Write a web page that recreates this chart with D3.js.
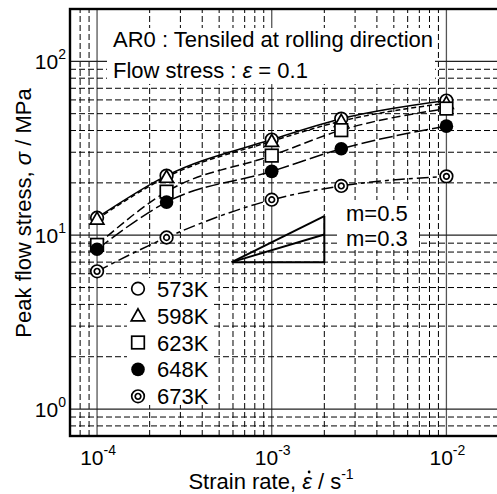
<!DOCTYPE html>
<html>
  <head>
    <meta charset="UTF-8" />
    <script src="https://d3js.org/d3.v7.min.js"></script>
    <style>
      body { margin: 0; background: #fff; }
      text { font-family: "Liberation Sans", Arial, sans-serif; fill: #000; }
    </style>
  </head>
  <body>
    <div id="chart"></div>

    <script>
      // strain rates (s^-1) and peak flow stress (MPa)
      var strainRates = [1e-4, 2.5e-4, 1e-3, 2.5e-3, 1e-2];
      var temps = ["573K", "598K", "623K", "648K", "673K"];
      var s573 = [12.6, 22.0, 35.5, 46.8, 59.5];
      var s598 = [12.4, 21.6, 34.7, 45.3, 57.5];
      var s623 = [8.8, 17.8, 28.7, 40.2, 53.5];
      var s648 = [8.3, 15.5, 23.3, 31.4, 42.4];
      var s673 = [6.2, 9.7, 16.0, 19.2, 21.8];
      var xTicks = [1e-4, 1e-3, 1e-2];
      var xTickExp = ["-4", "-3", "-2"];
      var yTicks = [1, 10, 100];
      var yTickExp = ["0", "1", "2"];
      // slope guide
      var slopeX = [5.9e-4, 2e-3];
      var slopeY0 = 7;
      var slopes = [0.5, 0.3];

      var width = 497, height = 494;
      var svg = d3.select("#chart").append("svg")
        .attr("width", width).attr("height", height);

      var x = d3.scaleLog().domain([7e-5, 2e-2]).range([70, 499]);
      var y = d3.scaleLog().domain([0.7, 200]).range([436, 9]);

      // grid
      var xGrid = [], yGrid = [];
      for (var e = -5; e <= -2; e++)
        for (var k = 1; k <= 9; k++) {
          var v = k * Math.pow(10, e);
          if (v > 7.01e-5 && v < 1.99e-2) xGrid.push({ v: v, major: k == 1 });
        }
      for (var e = -1; e <= 2; e++)
        for (var k = 1; k <= 9; k++) {
          var v = k * Math.pow(10, e);
          if (v > 0.701 && v < 199) yGrid.push({ v: v, major: k == 1 });
        }

      var grid = svg.append("g");
      grid.selectAll(".vg").data(xGrid).join("line")
        .attr("x1", d => x(d.v)).attr("x2", d => x(d.v))
        .attr("y1", y.range()[0]).attr("y2", y.range()[1])
        .attr("stroke", d => d.major ? "#555" : "#000")
        .attr("stroke-width", d => d.major ? 1.3 : 1)
        .attr("stroke-dasharray", d => d.major ? null : "6,3");
      grid.selectAll(".hg").data(yGrid).join("line")
        .attr("y1", d => y(d.v)).attr("y2", d => y(d.v))
        .attr("x1", x.range()[0]).attr("x2", x.range()[1])
        .attr("stroke", d => d.major ? "#222" : "#000")
        .attr("stroke-width", d => d.major ? 1.3 : 1)
        .attr("stroke-dasharray", d => d.major ? null : "6,3");

      // white areas behind annotations
      var boxes = [[107, 28, 328, 56], [337, 200, 82, 50], [127, 278, 86, 127]];
      svg.selectAll(".box").data(boxes).join("rect")
        .attr("x", d => d[0]).attr("y", d => d[1])
        .attr("width", d => d[2]).attr("height", d => d[3])
        .attr("fill", "#fff");

      // curves
      var series = [
        { name: temps[0], vals: s573, dash: null, mk: "circle" },
        { name: temps[1], vals: s598, dash: "5,3", mk: "triangle" },
        { name: temps[2], vals: s623, dash: "9,4", mk: "square" },
        { name: temps[3], vals: s648, dash: "14,4", mk: "filled" },
        { name: temps[4], vals: s673, dash: "12,4,4,4", mk: "double" }
      ];

      var line = d3.line()
        .x((d, i) => x(strainRates[i]))
        .y(d => y(d))
        .curve(d3.curveMonotoneX);

      svg.append("g").selectAll("path").data(series).join("path")
        .attr("d", d => line(d.vals))
        .attr("fill", "none")
        .attr("stroke", "#000")
        .attr("stroke-width", 1.5)
        .attr("stroke-dasharray", d => d.dash);

      function marker(g, type, cx, cy) {
        var m = g.append("g").attr("transform", "translate(" + cx + "," + cy + ")");
        if (type == "circle") {
          m.append("circle").attr("r", 6.3).attr("fill", "#fff").attr("stroke", "#000").attr("stroke-width", 1.7);
        } else if (type == "triangle") {
          m.append("path").attr("d", "M0,-6.8L6.8,5.2L-6.8,5.2Z").attr("fill", "#fff").attr("stroke", "#000").attr("stroke-width", 1.7);
        } else if (type == "square") {
          m.append("rect").attr("x", -6.3).attr("y", -6.3).attr("width", 12.6).attr("height", 12.6)
            .attr("fill", "#fff").attr("stroke", "#000").attr("stroke-width", 1.7);
        } else if (type == "filled") {
          m.append("circle").attr("r", 6.8).attr("fill", "#000");
        } else {
          m.append("circle").attr("r", 6.3).attr("fill", "#fff").attr("stroke", "#000").attr("stroke-width", 1.7);
          m.append("circle").attr("r", 2.8).attr("fill", "#fff").attr("stroke", "#000").attr("stroke-width", 1.7);
        }
      }

      var marks = svg.append("g");
      series.forEach(function (s) {
        s.vals.forEach(function (v, i) {
          marker(marks, s.mk, x(strainRates[i]), y(v));
        });
      });

      // slope triangle
      var tri = svg.append("g").attr("fill", "none").attr("stroke", "#000").attr("stroke-width", 2);
      var x0 = slopeX[0], x1 = slopeX[1];
      var yTop = slopeY0 * Math.pow(x1 / x0, slopes[0]);
      tri.append("path").attr("d", "M" + x(x0) + "," + y(slopeY0) + "L" + x(x1) + "," + y(slopeY0) + "L" + x(x1) + "," + y(yTop));
      slopes.forEach(function (m) {
        tri.append("line")
          .attr("x1", x(x0)).attr("y1", y(slopeY0))
          .attr("x2", x(x1)).attr("y2", y(slopeY0 * Math.pow(x1 / x0, m)));
      });
      svg.append("text").attr("x", 346).attr("y", 221).attr("font-size", 22).text("m=0.5");
      svg.append("text").attr("x", 346).attr("y", 246).attr("font-size", 22).text("m=0.3");

      // annotation text
      svg.append("text").attr("x", 113).attr("y", 47).attr("font-size", 22)
        .text("AR0 : Tensiled at rolling direction");
      var t2 = svg.append("text").attr("x", 113).attr("y", 78).attr("font-size", 22);
      t2.append("tspan").text("Flow stress :  ");
      t2.append("tspan").attr("font-style", "italic").text("ε");
      t2.append("tspan").text(" = 0.1");

      // legend
      var leg = svg.append("g");
      series.forEach(function (s, i) {
        var ly = 288.7 + i * 26.9;
        marker(leg, s.mk, 138, ly);
        leg.append("text").attr("x", 157).attr("y", ly + 8).attr("font-size", 22).text(s.name);
      });

      // frame
      svg.append("rect")
        .attr("x", x.range()[0]).attr("y", y.range()[1])
        .attr("width", x.range()[1] - x.range()[0])
        .attr("height", y.range()[0] - y.range()[1])
        .attr("fill", "none").attr("stroke", "#000").attr("stroke-width", 2.4);

      // tick labels
      var yl = svg.append("g");
      yTicks.forEach(function (t, i) {
        var tt = yl.append("text").attr("x", 66).attr("y", y(t) + 8).attr("font-size", 21).attr("text-anchor", "end");
        tt.append("tspan").text("10");
        tt.append("tspan").attr("font-size", 14).attr("dy", -10).text(yTickExp[i]);
      });
      var xl = svg.append("g");
      xTicks.forEach(function (t, i) {
        var tt = xl.append("text").attr("x", x(t) + 1).attr("y", 465).attr("font-size", 21).attr("text-anchor", "middle");
        tt.append("tspan").text("10");
        tt.append("tspan").attr("font-size", 14).attr("dy", -10).text(xTickExp[i]);
      });

      // axis titles
      var xt = svg.append("text").attr("x", 271).attr("y", 489).attr("font-size", 22).attr("text-anchor", "middle");
      xt.append("tspan").text("Strain rate,  ");
      var eps = xt.append("tspan").attr("font-style", "italic").text("ε");
      xt.append("tspan").text(" / s");
      xt.append("tspan").attr("font-size", 14).attr("dy", -10).text("-1");
      // dot over epsilon
      var eb = eps.node().getBBox();
      svg.append("circle").attr("cx", eb.x + eb.width / 2 + 2).attr("cy", eb.y + 3).attr("r", 1.4).attr("fill", "#000");

      var yt = svg.append("text").attr("transform", "translate(31,213) rotate(-90)")
        .attr("font-size", 22).attr("text-anchor", "middle");
      yt.append("tspan").text("Peak flow stress,  ");
      yt.append("tspan").attr("font-style", "italic").text("σ");
      yt.append("tspan").text(" / MPa");
    </script>
  </body>
</html>
